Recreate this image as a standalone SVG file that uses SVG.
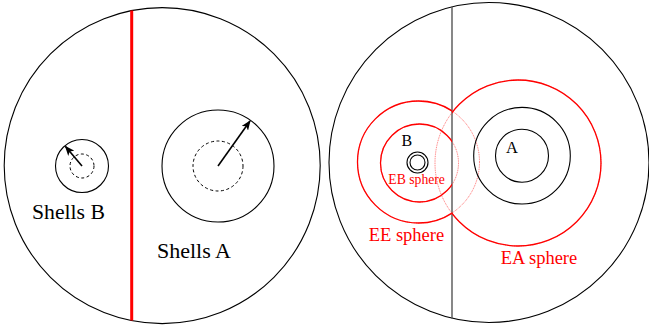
<svg xmlns="http://www.w3.org/2000/svg" width="649" height="335" viewBox="0 0 649 335">
<style>
.ol{fill:none;stroke:#000;stroke-width:1.1}
.dash{fill:none;stroke:#000;stroke-width:1;stroke-dasharray:3,2.5}
.red{fill:none;stroke:#f00;stroke-width:1.3}
.faint{fill:none;stroke:#f44;stroke-width:1;stroke-dasharray:1,0.8;opacity:0.75}
.arr{stroke:#000;stroke-width:1.6;fill:none}
.t{font-family:"Liberation Serif","Times New Roman",serif;fill:#000}
.tr{font-family:"Liberation Serif","Times New Roman",serif;fill:#f00}
</style>
<defs>
<marker id="ah" viewBox="0 0 10 10" refX="9" refY="5" markerWidth="10" markerHeight="8" markerUnits="userSpaceOnUse" orient="auto" preserveAspectRatio="none">
<path d="M0,0 L10,5 L0,10 L2.5,5 Z" fill="#000"/>
</marker>
<clipPath id="leftSide"><rect x="0" y="0" width="452" height="335"/></clipPath>
<clipPath id="rightSide"><rect x="452" y="0" width="197" height="335"/></clipPath>
</defs>
<rect width="649" height="335" fill="#fff"/>

<g id="left-panel">
<circle class="ol" cx="162.2" cy="165.6" r="158"/>
<line x1="131.7" y1="10.6" x2="131.7" y2="320.6" stroke="#f00" stroke-width="3"/>
</g>

<g id="shells-b">
<circle class="ol" cx="82" cy="166" r="26.5"/>
<circle class="dash" cx="82" cy="166" r="12"/>
<text class="t" x="32" y="219" font-size="21.7">Shells B</text>
</g>

<g id="shells-a">
<circle class="ol" cx="218" cy="166" r="56"/>
<circle class="dash" cx="218" cy="166" r="25"/>
<text class="t" x="157" y="257.5" font-size="22">Shells A</text>
</g>

<g id="right-panel">
<circle class="ol" cx="489" cy="162.5" r="160"/>
<line x1="452" y1="6.8" x2="452" y2="318.6" stroke="#555" stroke-width="1.4"/>
</g>

<g id="ee-sphere">
<circle class="faint" cx="418.5" cy="162" r="61"/>
<circle class="red" cx="418.5" cy="162" r="61" clip-path="url(#leftSide)"/>
<text class="tr" x="368.7" y="240.7" font-size="18.5">EE sphere</text>
</g>

<g id="eb-sphere">
<circle class="faint" cx="419.5" cy="163" r="39"/>
<circle class="red" cx="419.5" cy="163" r="39" clip-path="url(#leftSide)"/>
<text class="tr" x="388.3" y="184" font-size="13.7">EB sphere</text>
</g>

<g id="node-b">
<circle class="ol" cx="417.5" cy="162.5" r="10.5"/>
<circle class="ol" cx="417.5" cy="162.5" r="7.5"/>
<text class="t" x="401.5" y="145.7" font-size="16">B</text>
</g>

<g id="ea-sphere">
<circle class="faint" cx="518" cy="163" r="83"/>
<circle class="red" cx="518" cy="163" r="83" clip-path="url(#rightSide)"/>
<text class="tr" x="500.7" y="264.3" font-size="18.5">EA sphere</text>
</g>

<g id="node-a">
<circle class="ol" cx="522" cy="155.7" r="48.3"/>
<circle class="ol" cx="522" cy="155.7" r="26.5"/>
<text class="t" x="506" y="152.7" font-size="16.5">A</text>
</g>

<g id="connectors">
<line class="arr" x1="82" y1="166" x2="65.5" y2="146.5" marker-end="url(#ah)"/>
<line class="arr" x1="218" y1="166" x2="250" y2="121" marker-end="url(#ah)"/>
</g>
</svg>
